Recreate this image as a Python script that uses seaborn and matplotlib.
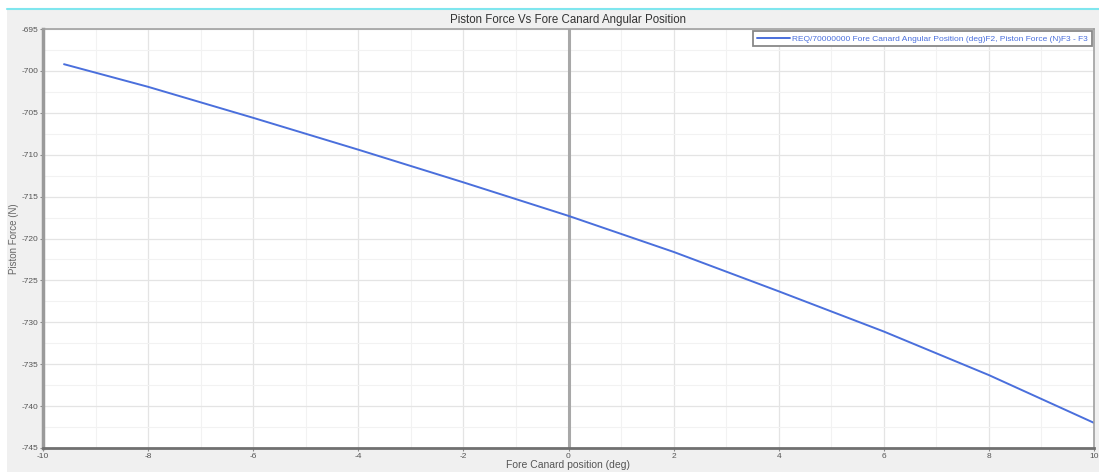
import matplotlib
matplotlib.use("Agg")
import matplotlib.pyplot as plt
import seaborn as sns
import pandas as pd
from matplotlib.patches import Rectangle
from matplotlib.lines import Line2D
from matplotlib.ticker import MultipleLocator

angle_deg = [-9.6, -8, -6, -4, -2, 0, 2, 4, 6, 8, 10]
piston_force = [-699.2, -701.9, -705.6, -709.4, -713.3, -717.3, -721.6, -726.3, -731.1, -736.3, -742.0]
series_label = "REQ/70000000 Fore Canard Angular Position (deg)F2, Piston Force (N)F3 - F3"
x_ticks = [-10, -8, -6, -4, -2, 0, 2, 4, 6, 8, 10]
y_ticks = [-695, -700, -705, -710, -715, -720, -725, -730, -735, -740, -745]

sns.set_theme(style="white")
plt.rcParams['font.family'] = ['Liberation Sans', 'DejaVu Sans']
plt.rcParams['axes.unicode_minus'] = False

W, H = 1099, 472
fig = plt.figure(figsize=(W / 100, H / 100), dpi=100)
fig.patch.set_facecolor("white")
# gray panel and cyan top line
fig.add_artist(Rectangle((7 / W, 0), 1 - 7 / W, (H - 9) / H, transform=fig.transFigure,
                         facecolor="#f0f0f0", edgecolor="none", zorder=0))
fig.add_artist(Line2D([7 / W, 1], [(H - 8.5) / H] * 2, transform=fig.transFigure,
                      color="#7fe6ee", lw=1.5, zorder=1))

ax = fig.add_axes([43 / W, (H - 448) / H, 1051 / W, 419 / H])
ax.set_facecolor("white")

df = pd.DataFrame({"angle": angle_deg, "force": piston_force, "series": series_label})
sns.lineplot(data=df, x="angle", y="force", hue="series", palette=["#4a6fdc"],
             linewidth=1.4, ax=ax, legend=True)

ax.set_xlim(-10, 10)
ax.set_ylim(-745, -695)
ax.set_xticks(x_ticks)
ax.set_yticks(y_ticks)
ax.xaxis.set_minor_locator(MultipleLocator(1))
ax.yaxis.set_minor_locator(MultipleLocator(2.5))
ax.grid(which="major", color="#e4e4e4", lw=0.9, ls="-")
ax.grid(which="minor", color="#f2f2f2", lw=0.8, ls="-")
ax.set_axisbelow(True)
ax.axvline(0, color="#a8a8a8", lw=2.2, zorder=1.5)

for side, sp in ax.spines.items():
    sp.set_color("#a0a0a0")
    sp.set_linewidth(1.2)
ax.spines["left"].set_linewidth(2.5)
ax.spines["bottom"].set_linewidth(2.0)
ax.spines["left"].set_color("#9a9a9a")
ax.spines["bottom"].set_color("#707070")

ax.tick_params(axis="both", which="major", labelsize=6.0, labelcolor="#555555",
               length=2, width=0.8, color="#888888", pad=1.5, direction="out",
               left=True, bottom=True)
ax.tick_params(which="minor", length=0)

ax.set_xlabel("Fore Canard position (deg)", fontsize=7.5, color="#555555", labelpad=0)
ax.set_ylabel("Piston Force (N)", fontsize=7.0, color="#666666")
ax.yaxis.set_label_coords(-24 / 1051, 0.5)
ax.set_title("Piston Force Vs Fore Canard Angular Position", fontsize=8.3,
             color="#333333", pad=4)

leg = ax.legend(loc="upper right", fontsize=6.0, frameon=True, fancybox=False,
                borderpad=0.45, handlelength=4.0, handletextpad=0.3,
                borderaxespad=0.25, labelcolor="#4a6fdc")
leg.get_frame().set_edgecolor("#888888")
leg.get_frame().set_linewidth(1.3)
leg.get_frame().set_facecolor("white")
leg.get_frame().set_alpha(1)

fig.savefig("out.png", dpi=100)
